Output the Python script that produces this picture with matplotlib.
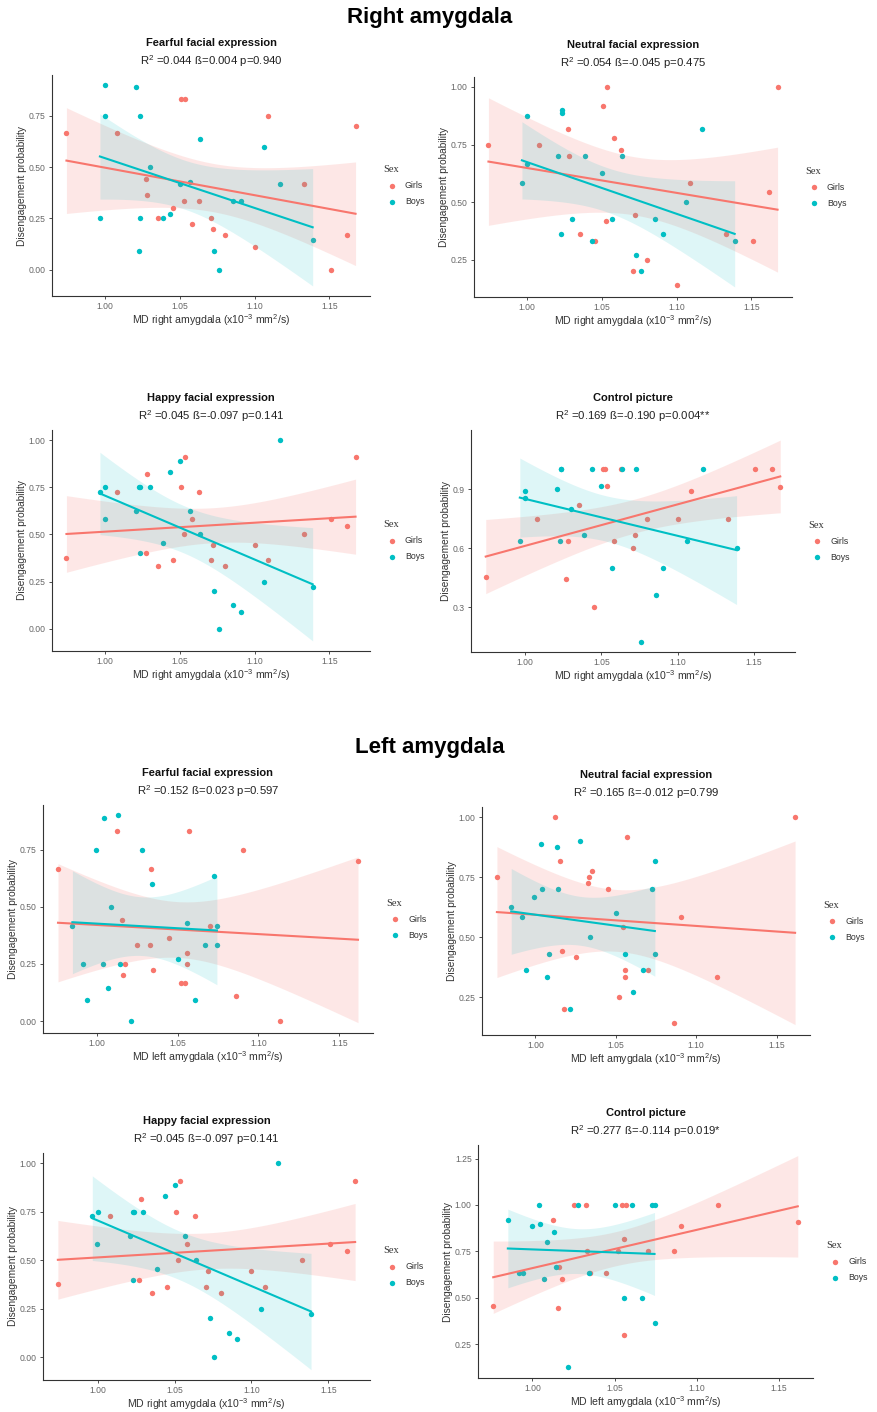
import numpy as np
import matplotlib
matplotlib.use('Agg')
import matplotlib.pyplot as plt

plt.rcParams['font.family'] = ['Liberation Sans', 'DejaVu Sans']
plt.rcParams['mathtext.fontset'] = 'custom'
plt.rcParams['mathtext.rm'] = 'Liberation Sans'
plt.rcParams['mathtext.it'] = 'Liberation Sans:italic'
plt.rcParams['mathtext.bf'] = 'Liberation Sans:bold'

### DATA
sex_labels = ['Girls', 'Boys']
sex_colors = ['#F8766D', '#00BFC4']
band_alpha = [0.17, 0.13]

# MD per subject (x10^-3 mm^2/s)
girls_md_right = [0.974, 1.008, 1.027, 1.028, 1.035, 1.045, 1.051, 1.0525, 1.0535, 1.058,
                  1.063, 1.0705, 1.072, 1.080, 1.100, 1.109, 1.133, 1.151, 1.162, 1.1675]
boys_md_right = [0.9964, 0.9996, 1.000, 1.0208, 1.0228, 1.0232, 1.0234, 1.0297, 1.0386, 1.0435,
                 1.050, 1.057, 1.0636, 1.0728, 1.0759, 1.0857, 1.0906, 1.106, 1.117, 1.1388]
girls_md_left = [0.9761, 1.0123, 1.0154, 1.0163, 1.0177, 1.0251, 1.0327, 1.0333, 1.035, 1.045,
                 1.0521, 1.0547, 1.056, 1.056, 1.057, 1.0702, 1.0862, 1.0903, 1.1132, 1.1615]
boys_md_left = [0.985, 0.9918, 0.994, 0.9994, 1.0037, 1.0043, 1.007, 1.0086, 1.0132, 1.0142,
                1.0214, 1.0278, 1.0342, 1.050, 1.0558, 1.0605, 1.0669, 1.0728, 1.0743, 1.0743]

# disengagement probability, right amygdala
girls_fear_r = [.667, .667, .444, .364, .25, .30, .833, .333, .833, .222,
                .333, .25, .20, .167, .111, .75, .417, 0, .167, .70]
boys_fear_r = [.25, .75, .9, .889, .091, .25, .75, .5, .25, .273,
               .417, .429, .636, .091, 0, .333, .333, .6, .417, .143]
girls_neut_r = [.75, .75, .818, .70, .364, .333, .917, .417, 1.0, .778,
                .727, .2, .444, .25, .143, .583, .364, .333, .545, 1.0]
boys_neut_r = [.583, .667, .875, .70, .364, .889, .9, .429, .70, .333,
               .625, .429, .70, .273, .2, .429, .364, .5, .818, .333]
girls_happy_r = [.375, .727, .40, .818, .333, .364, .75, .5, .909, .583,
                 .727, .364, .444, .333, .444, .364, .5, .583, .545, .909]
boys_happy_r = [.727, .583, .75, .625, .75, .4, .75, .75, .455, .833,
                .889, .625, .5, .2, 0, .125, .091, .25, 1.0, .222]
girls_ctrl_r = [.455, .75, .444, .636, .818, .30, 1.0, 1.0, .917, .636,
                1.0, .60, .667, .75, .75, .889, .75, 1.0, 1.0, .909]
boys_ctrl_r = [.636, .889, .857, .9, .636, 1.0, 1.0, .8, .667, 1.0,
               .917, .5, 1.0, 1.0, .125, .364, .5, .636, 1.0, .6]

# disengagement probability, left amygdala
girls_fear_l = [.667, .833, .444, .2, .25, .333, .333, .667, .222, .364,
                .167, .167, .30, .25, .833, .417, .111, .75, 0, .70]
boys_fear_l = [.417, .25, .091, .75, .25, .889, .143, .5, .9, .25,
               0, .75, .6, .273, .429, .091, .333, .636, .417, .333]
girls_neut_l = [.75, 1.0, .818, .444, .2, .417, .727, .75, .778, .70,
                .25, .545, .364, .333, .917, .364, .143, .583, .333, 1.0]
boys_neut_l = [.625, .583, .364, .667, .889, .70, .333, .429, .875, .70,
               .2, .9, .5, .60, .429, .273, .364, .70, .818, .429]
girls_ctrl_l = [.455, .917, .444, .667, .60, 1.0, 1.0, .75, .636, .636,
                .75, 1.0, .818, .30, 1.0, .75, .75, .889, 1.0, .909]
boys_ctrl_l = [.917, .636, .636, .889, 1.0, .9, .6, .8, .857, .667,
               .125, 1.0, .636, 1.0, .5, 1.0, .5, 1.0, 1.0, .364]

titles = ['Fearful facial expression', 'Neutral facial expression',
          'Happy facial expression', 'Control picture',
          'Fearful facial expression', 'Neutral facial expression',
          'Happy facial expression', 'Control picture']
stats = ['=0.044 \u00df=0.004 p=0.940', '=0.054 \u00df=-0.045 p=0.475',
         '=0.045 \u00df=-0.097 p=0.141', '=0.169 \u00df=-0.190 p=0.004**',
         '=0.152 \u00df=0.023 p=0.597', '=0.165 \u00df=-0.012 p=0.799',
         '=0.045 \u00df=-0.097 p=0.141', '=0.277 \u00df=-0.114 p=0.019*']
sides = ['right', 'right', 'right', 'right', 'left', 'left', 'right', 'left']
xtick_labels = ['1.00', '1.05', '1.10', '1.15']
ytick_labels = [['0.00', '0.25', '0.50', '0.75'],
                ['0.25', '0.50', '0.75', '1.00'],
                ['0.00', '0.25', '0.50', '0.75', '1.00'],
                ['0.3', '0.6', '0.9'],
                ['0.00', '0.25', '0.50', '0.75'],
                ['0.25', '0.50', '0.75', '1.00'],
                ['0.00', '0.25', '0.50', '0.75', '1.00'],
                ['0.25', '0.50', '0.75', '1.00', '1.25']]

panel_data = [
    (girls_md_right, girls_fear_r, boys_md_right, boys_fear_r),
    (girls_md_right, girls_neut_r, boys_md_right, boys_neut_r),
    (girls_md_right, girls_happy_r, boys_md_right, boys_happy_r),
    (girls_md_right, girls_ctrl_r, boys_md_right, boys_ctrl_r),
    (girls_md_left, girls_fear_l, boys_md_left, boys_fear_l),
    (girls_md_left, girls_neut_l, boys_md_left, boys_neut_l),
    (girls_md_right, girls_happy_r, boys_md_right, boys_happy_r),
    (girls_md_left, girls_ctrl_l, boys_md_left, boys_ctrl_l),
]

### LAYOUT (pixels: left, top, right, bottom)
W, H = 877, 1412
boxes = [(52, 75, 370, 296), (474, 77, 792, 297),
         (52, 430, 370, 651), (471, 430, 795, 652),
         (43, 805, 373, 1033), (482, 807, 810, 1035),
         (43, 1153, 370, 1380), (478, 1145, 813, 1378)]

T975_DF18 = 2.101  # t quantile, n = 20 per group


def lm_band(x, y, n_grid=80):
	x = np.asarray(x, float)
	y = np.asarray(y, float)
	b, a = np.polyfit(x, y, 1)
	s = np.sqrt(np.sum((y - (a + b * x)) ** 2) / (len(x) - 2))
	xg = np.linspace(x.min(), x.max(), n_grid)
	se = s * np.sqrt(1.0 / len(x) + (xg - x.mean()) ** 2 / np.sum((x - x.mean()) ** 2))
	yg = a + b * xg
	return xg, yg, yg - T975_DF18 * se, yg + T975_DF18 * se


fig = plt.figure(figsize=(W / 100, H / 100), dpi=100)
fig.text(0.49, 1 - 18 / H, 'Right amygdala', ha='center', va='center', fontsize=16, weight='bold')
fig.text(0.49, 1 - 748 / H, 'Left amygdala', ha='center', va='center', fontsize=16, weight='bold')

for k, (l, t, r, b) in enumerate(boxes):
	ax = fig.add_axes([l / W, 1 - b / H, (r - l) / W, (b - t) / H])
	gx, gy, bx, by = panel_data[k]
	fits = []
	for x, y, c, lab in [(gx, gy, sex_colors[0], sex_labels[0]), (bx, by, sex_colors[1], sex_labels[1])]:
		ax.scatter(x, y, s=15, color=c, linewidths=0, zorder=2, label=lab)
		fits.append(lm_band(x, y))
	for (xg, yg, lo, hi), c, al in zip(fits, sex_colors, band_alpha):
		ax.fill_between(xg, lo, hi, color=c, alpha=al, linewidth=0, zorder=3)
	for (xg, yg, lo, hi), c in zip(fits, sex_colors):
		ax.plot(xg, yg, color=c, lw=1.5, zorder=4)

	# ggplot-like 5% expansion around everything drawn
	allx = np.concatenate([gx, bx])
	ally = np.concatenate([gy, by] + [f[2] for f in fits] + [f[3] for f in fits])
	dx = 0.05 * (allx.max() - allx.min())
	dy = 0.05 * (ally.max() - ally.min())
	ax.set_xlim(allx.min() - dx, allx.max() + dx)
	ax.set_ylim(ally.min() - dy, ally.max() + dy)

	ax.set_xticks([float(v) for v in xtick_labels])
	ax.set_xticklabels(xtick_labels)
	ax.set_yticks([float(v) for v in ytick_labels[k]])
	ax.set_yticklabels(ytick_labels[k])
	ax.tick_params(labelsize=6.2, labelcolor='#666666', color='#333333', length=2.5, width=0.6, pad=2)
	for sp in ['top', 'right']:
		ax.spines[sp].set_visible(False)
	for sp in ['left', 'bottom']:
		ax.spines[sp].set_color('#333333')
		ax.spines[sp].set_linewidth(0.8)

	ax.set_xlabel('MD %s amygdala (x10$^{-3}$ mm$^2$/s)' % sides[k], fontsize=7.6, color='#333333', labelpad=0.5)
	ax.set_ylabel('Disengagement probability', fontsize=7.3, color='#333333', labelpad=1.5)
	ax.annotate(titles[k], xy=(0.5, 1), xycoords='axes fraction', xytext=(0, 23), textcoords='offset points',
	            ha='center', va='center', fontsize=8, weight='bold', color='#111111')
	ax.annotate('R$^2$ ' + stats[k], xy=(0.5, 1), xycoords='axes fraction', xytext=(0, 10), textcoords='offset points',
	            ha='center', va='center', fontsize=8.2, color='#222222')

	leg = ax.legend(title='Sex', loc='center left', bbox_to_anchor=(1.03, 0.5), frameon=False,
	                fontsize=6.3, handletextpad=0.5, borderaxespad=0, markerscale=1.0, labelspacing=0.8)
	leg.get_title().set_family('Liberation Serif')
	leg.get_title().set_fontsize(7.5)
	leg.get_title().set_color('#333333')
	for txt in leg.get_texts():
		txt.set_color('#333333')
	leg._legend_box.align = 'left'

fig.savefig('out.png', dpi=100)
